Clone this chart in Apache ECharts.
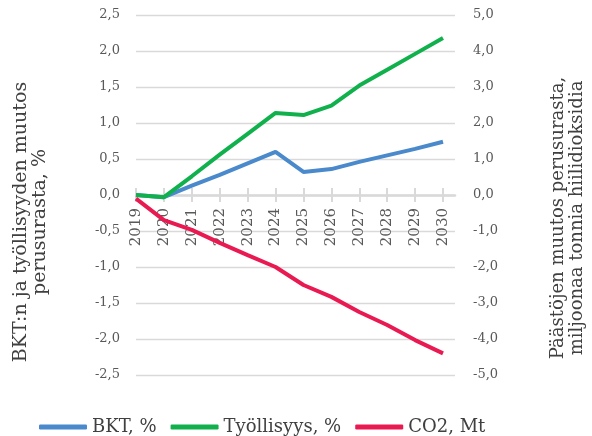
<!DOCTYPE html>
<html>
<head>
<meta charset="UTF-8">
<title>BKT, työllisyys ja päästöt</title>
<script src="https://cdn.jsdelivr.net/npm/echarts@6/dist/echarts.min.js"></script>
<style>
  html, body { margin: 0; padding: 0; background: #fff; }
  #main { width: 592px; height: 436px; }
</style>
</head>
<body>
<div id="main"></div>
<script type="text/javascript">
// vuodet ja sarjat (luettu kuvasta)
var years = [2019, 2020, 2021, 2022, 2023, 2024, 2025, 2026, 2027, 2028, 2029, 2030];
var bkt = [0.0, -0.03, 0.13, 0.28, 0.44, 0.60, 0.32, 0.36, 0.46, 0.55, 0.64, 0.74];
var tyollisyys = [0.0, -0.03, 0.26, 0.56, 0.85, 1.14, 1.11, 1.24, 1.52, 1.74, 1.96, 2.18];
var co2 = [-0.1, -0.7, -0.97, -1.33, -1.67, -2.0, -2.5, -2.83, -3.25, -3.61, -4.03, -4.4];
var seriesNames = ['BKT, %', 'Työllisyys, %', 'CO2, Mt'];

var font = 'DejaVu Serif';
var gray = '#d9d9d9';
var plotH = 360; // grid height, x axis sits in the middle (value 0)

function pairs(arr) {
    var out = [];
    for (var i = 0; i < years.length; i++) {
        out.push([years[i], arr[i]]);
    }
    return out;
}
function comma(v) {
    return v.toFixed(1).replace('.', ',');
}

var myChart = echarts.init(document.getElementById('main'));

var option = {
    animation: false,
    textStyle: { fontFamily: font },
    grid: { left: 136, right: 137, top: 15, bottom: 61 },
    legend: {
        data: seriesNames,
        left: 34,
        top: 413,
        icon: 'roundRect',
        itemWidth: 48,
        itemHeight: 5,
        itemGap: 14,
        textStyle: { fontFamily: font, fontSize: 18, color: '#404040' }
    },
    xAxis: [{
        type: 'value',
        z: 0,
        min: 2019,
        max: 2030.43,
        position: 'bottom',
        offset: -plotH / 2,
        axisLine: { show: true, onZero: false, lineStyle: { color: gray, width: 2.5 } },
        axisTick: { show: true, length: 7, customValues: years, lineStyle: { color: gray, width: 2 } },
        axisLabel: {
            customValues: years,
            rotate: 90,
            margin: 13,
            fontSize: 15,
            color: '#595959',
            formatter: function (v) { return String(v); }
        },
        splitLine: { show: false }
    }, {
        type: 'value',
        z: 0,
        min: 2019,
        max: 2030.43,
        position: 'top',
        offset: -plotH / 2,
        axisLine: { show: false, onZero: false },
        axisTick: { show: true, length: 7, customValues: years, lineStyle: { color: gray, width: 2 } },
        axisLabel: { show: false },
        splitLine: { show: false }
    }],
    yAxis: [{
        type: 'value',
        min: -2.5,
        max: 2.5,
        interval: 0.5,
        axisLine: { show: false, onZero: false },
        axisTick: { show: false },
        axisLabel: { margin: 16, fontSize: 13, color: '#595959', formatter: comma },
        splitLine: { lineStyle: { color: gray, width: 1.3 } }
    }, {
        type: 'value',
        min: -5,
        max: 5,
        interval: 1,
        axisLine: { show: false, onZero: false },
        axisTick: { show: false },
        axisLabel: { margin: 18, fontSize: 13, color: '#595959', formatter: comma },
        splitLine: { show: false }
    }],
    graphic: [{
        type: 'text',
        x: 31,
        y: 222,
        rotation: Math.PI / 2,
        style: {
            text: 'BKT:n ja työllisyyden muutos\nperusurasta, %',
            font: '19px "' + font + '"',
            fill: '#404040',
            align: 'center',
            verticalAlign: 'middle',
            lineHeight: 19
        }
    }, {
        type: 'text',
        x: 568,
        y: 218,
        rotation: Math.PI / 2,
        style: {
            text: 'Päästöjen muutos perusurasta,\nmiljoonaa tonnia hiilidioksidia',
            font: '18px "' + font + '"',
            fill: '#404040',
            align: 'center',
            verticalAlign: 'middle',
            lineHeight: 19
        }
    }],
    series: [{
        name: seriesNames[0],
        type: 'line',
        z: 5,
        xAxisIndex: 0,
        yAxisIndex: 0,
        data: pairs(bkt),
        showSymbol: false,
        itemStyle: { color: '#4a89cb' },
        lineStyle: { width: 4, color: '#4a89cb' }
    }, {
        name: seriesNames[1],
        type: 'line',
        z: 5,
        xAxisIndex: 0,
        yAxisIndex: 0,
        data: pairs(tyollisyys),
        showSymbol: false,
        itemStyle: { color: '#10b14c' },
        lineStyle: { width: 4, color: '#10b14c' }
    }, {
        name: seriesNames[2],
        type: 'line',
        z: 5,
        xAxisIndex: 0,
        yAxisIndex: 1,
        data: pairs(co2),
        showSymbol: false,
        itemStyle: { color: '#e91a52' },
        lineStyle: { width: 4, color: '#e91a52' }
    }]
};
myChart.setOption(option);
</script>
</body>
</html>
